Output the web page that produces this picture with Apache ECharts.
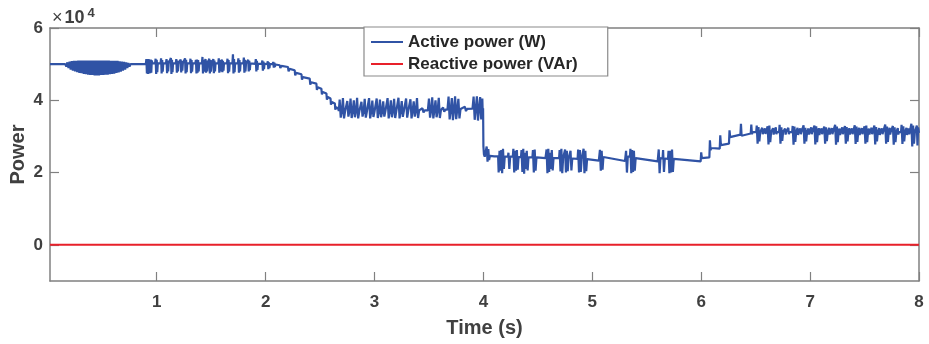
<!DOCTYPE html>
<html>
<head>
<meta charset="utf-8">
<script src="https://cdn.jsdelivr.net/npm/echarts@6/dist/echarts.min.js"></script>
<style>html,body{margin:0;padding:0;background:#fff}#chart{width:929px;height:344px}</style>
</head>
<body>
<div id="chart"></div>
<script>
// Values in units of 10^4 W / 10^4 VAr, time in s
const seriesNames = ['Active power (W)', 'Reactive power (VAr)'];
const xTicks = [1, 2, 3, 4, 5, 6, 7, 8];
const yTicks = [0, 2, 4, 6];

// 0 - 0.9 s : steady + dense oscillation band
const activeSeg1 = [[0.02,5.00],[0.16,5.00],[0.17,4.93],[0.18,5.05],[0.19,4.89],[0.20,5.07],[0.21,4.85],[0.22,5.08],[0.23,4.82],[0.24,5.09],[0.25,4.80],[0.26,5.09],[0.27,4.78],[0.28,5.10],[0.29,4.76],[0.30,5.10],[0.31,4.75],[0.32,5.10],[0.33,4.73],[0.34,5.10],[0.35,4.72],[0.36,5.10],[0.37,4.71],[0.38,5.10],[0.39,4.70],[0.40,5.10],[0.41,4.70],[0.42,5.10],[0.43,4.69],[0.44,5.10],[0.45,4.69],[0.46,5.10],[0.47,4.69],[0.48,5.10],[0.49,4.70],[0.50,5.10],[0.51,4.70],[0.52,5.10],[0.53,4.71],[0.54,5.10],[0.55,4.71],[0.56,5.10],[0.57,4.72],[0.58,5.09],[0.59,4.73],[0.60,5.09],[0.61,4.74],[0.62,5.09],[0.63,4.76],[0.64,5.09],[0.65,4.77],[0.66,5.08],[0.67,4.79],[0.68,5.07],[0.69,4.82],[0.70,5.06],[0.71,4.85],[0.72,5.05],[0.73,4.89],[0.74,5.03],[0.75,4.93],[0.76,5.00],[0.90,5.01]];

// 0.9 - 2.1 s : bursts around 5.0
const activeSeg2 = [[0.905,5.14],[0.91,4.74],[0.915,5.13],[0.92,4.73],[0.925,5.14],[0.93,4.74],[0.935,5.12],[0.94,4.75],[0.945,5.13],[0.95,4.76],[0.955,5.10],[0.96,5.02],
[0.985,5.02],[0.99,5.15],[0.995,4.73],[1.00,5.12],[1.005,4.78],[1.01,5.02],
[1.035,5.02],[1.04,5.16],[1.045,4.74],[1.05,5.11],[1.055,4.79],[1.06,5.02],
[1.085,5.02],[1.09,5.14],[1.095,4.75],[1.10,5.10],[1.105,4.80],[1.11,5.02],
[1.125,5.02],[1.13,5.17],[1.135,4.73],[1.14,5.12],[1.145,4.78],[1.15,5.02],
[1.175,5.02],[1.18,5.14],[1.185,4.76],[1.19,5.10],[1.195,4.80],[1.20,5.02],
[1.215,5.02],[1.22,5.13],[1.225,4.77],[1.23,5.09],[1.235,4.82],[1.24,5.02],
[1.255,5.02],[1.26,5.16],[1.265,4.74],[1.27,5.12],[1.275,4.78],[1.28,5.02],
[1.305,5.02],[1.31,5.15],[1.315,4.75],[1.32,5.11],[1.325,4.79],[1.33,5.02],
[1.355,5.02],[1.36,5.12],[1.365,4.74],[1.37,5.13],[1.375,4.76],[1.38,5.11],[1.385,4.80],[1.39,5.02],
[1.415,5.02],[1.42,5.20],[1.425,4.74],[1.43,5.12],[1.435,4.79],[1.44,5.02],
[1.448,5.14],[1.453,4.76],[1.458,5.10],[1.463,4.80],[1.468,5.02],
[1.478,5.02],[1.483,5.15],[1.488,4.74],[1.493,5.11],[1.498,4.79],[1.503,5.02],
[1.515,5.02],[1.52,5.14],[1.525,4.75],[1.53,5.10],[1.535,4.80],[1.54,5.02],
[1.565,5.02],[1.57,5.16],[1.575,4.76],[1.58,5.11],[1.585,4.80],[1.59,5.02],
[1.598,5.13],[1.603,4.78],[1.608,5.09],[1.613,4.82],[1.618,5.02],
[1.645,5.02],[1.65,5.15],[1.655,4.75],[1.66,5.11],[1.665,4.79],[1.67,5.02],
[1.695,5.02],[1.70,5.27],[1.705,4.74],[1.71,5.14],[1.715,4.78],[1.72,5.02],
[1.745,5.02],[1.75,5.16],[1.755,4.76],[1.76,5.11],[1.765,4.80],[1.77,5.02],
[1.795,5.02],[1.80,5.18],[1.805,4.76],[1.81,5.12],[1.815,4.80],[1.82,5.02],
[1.835,5.02],[1.84,5.12],[1.845,4.80],[1.85,5.09],[1.855,4.83],[1.86,5.02],
[1.905,5.01],[1.91,5.14],[1.915,4.80],[1.92,5.09],[1.925,4.84],[1.93,5.01],
[1.965,5.01],[1.97,5.10],[1.975,4.82],[1.98,5.07],[1.985,4.86],[1.99,5.01],
[2.015,5.00],[2.02,5.08],[2.025,4.86],[2.03,5.05],[2.035,4.89],[2.04,5.00],
[2.065,5.00],[2.07,5.06],[2.075,4.90],[2.08,5.04],[2.085,4.92],[2.09,4.99]];

// 2.1 - 2.67 s : descending staircase
const activeSeg3 = [[2.13,4.97],[2.135,4.89],[2.145,4.95],[2.155,4.93],
[2.205,4.92],[2.211,4.80],[2.22,4.87],[2.23,4.84],
[2.267,4.83],[2.272,4.69],[2.28,4.76],[2.29,4.73],
[2.329,4.72],[2.334,4.57],[2.342,4.64],[2.352,4.61],
[2.405,4.60],[2.41,4.43],[2.418,4.50],[2.428,4.47],
[2.466,4.46],[2.471,4.29],[2.479,4.36],[2.489,4.33],
[2.512,4.32],[2.517,4.16],[2.525,4.23],[2.535,4.20],
[2.558,4.19],[2.563,4.02],[2.571,4.09],[2.581,4.06],
[2.596,4.05],[2.60,3.88],[2.608,3.95],[2.618,3.92],
[2.636,3.91],[2.64,3.74],[2.648,3.81],[2.658,3.78],
[2.668,3.76],[2.672,3.70]];

// 2.67 - 4.0 s : spiky band around 3.72
const activeSeg4 = [[2.68,4.02],[2.69,3.52],[2.70,3.70],[2.71,4.06],[2.72,3.50],[2.73,3.70],[2.75,3.98],[2.76,3.55],[2.77,3.70],[2.78,4.05],[2.79,3.51],[2.80,3.70],[2.81,4.00],[2.82,3.53],[2.83,3.70],[2.84,4.07],[2.85,3.50],[2.86,3.69],[2.88,3.96],[2.89,3.55],[2.90,3.69],[2.91,4.04],[2.92,3.52],[2.93,3.69],[2.95,4.06],[2.96,3.50],[2.97,3.69],[2.98,3.99],[2.99,3.54],[3.00,3.69],[3.02,4.05],[3.03,3.51],[3.04,3.69],[3.05,4.02],[3.06,3.53],[3.07,3.69],[3.08,3.97],[3.09,3.55],[3.10,3.70],[3.12,4.06],[3.13,3.50],[3.14,3.70],[3.15,4.00],[3.16,3.53],[3.17,3.70],[3.18,4.04],[3.19,3.51],[3.20,3.70],[3.22,4.07],[3.23,3.50],[3.24,3.70],[3.25,3.98],[3.26,3.54],[3.27,3.71],[3.29,4.05],[3.30,3.52],[3.31,3.71],[3.33,4.03],[3.34,3.50],[3.35,3.71],[3.36,3.97],[3.37,3.55],[3.38,3.71],[3.39,4.06],[3.40,3.51],[3.41,3.72],[3.44,3.78],[3.45,3.66],[3.46,3.72],[3.49,3.72],
[3.50,4.05],[3.51,3.52],[3.52,3.72],[3.53,4.08],[3.54,3.50],[3.55,3.72],[3.56,4.00],[3.57,3.53],[3.58,3.72],[3.59,4.07],[3.60,3.51],[3.61,3.73],[3.63,3.80],[3.64,3.68],[3.65,3.74],[3.67,3.74],
[3.68,4.10],[3.69,3.47],[3.70,3.74],[3.71,4.06],[3.72,3.45],[3.73,3.75],[3.74,4.11],[3.75,3.48],[3.76,3.75],[3.77,4.04],[3.78,3.50],[3.79,3.76],[3.83,3.82],[3.84,3.70],[3.85,3.76],[3.90,3.77],
[3.91,4.10],[3.92,3.46],[3.93,3.76],[3.94,4.11],[3.95,3.44],[3.96,3.77],[3.97,4.09],[3.98,3.47],[3.99,4.05],[3.993,3.72],[3.997,3.78]];

// 4.0 - 6.0 s : low level ~2.4 with bursts
const activeSeg5 = [[4.00,2.72],[4.005,2.50],[4.012,2.44],[4.03,2.72],[4.038,2.30],[4.045,2.65],[4.052,2.35],[4.06,2.46],[4.10,2.45],
[4.135,2.45],[4.14,2.00],[4.148,2.60],[4.156,2.05],[4.164,2.62],[4.172,1.98],[4.18,2.66],[4.188,2.10],[4.196,2.44],
[4.225,2.44],[4.23,2.55],[4.238,2.10],[4.246,2.44],[4.27,2.44],[4.275,2.66],[4.283,2.00],[4.291,2.60],[4.299,2.05],[4.307,2.62],[4.315,2.08],[4.323,2.43],
[4.345,2.43],[4.35,2.62],[4.358,2.02],[4.366,2.66],[4.374,1.97],[4.382,2.55],[4.39,2.10],[4.398,2.60],[4.406,2.06],[4.414,2.42],
[4.45,2.42],[4.455,2.62],[4.463,2.00],[4.471,2.64],[4.479,2.05],[4.487,2.42],[4.57,2.40],
[4.575,2.40],[4.58,2.64],[4.588,1.98],[4.596,2.66],[4.604,2.02],[4.612,2.55],[4.62,2.10],[4.628,2.62],[4.636,2.06],[4.644,2.40],
[4.695,2.40],[4.70,2.62],[4.708,2.03],[4.716,2.66],[4.724,1.98],[4.732,2.40],[4.745,2.39],[4.75,2.64],[4.758,2.00],[4.766,2.60],[4.774,2.04],[4.782,2.39],[4.795,2.39],[4.80,2.60],[4.808,2.06],[4.816,2.39],
[4.865,2.38],[4.87,2.64],[4.878,2.00],[4.886,2.62],[4.894,2.02],[4.902,2.38],[4.915,2.38],[4.92,2.66],[4.928,1.98],[4.936,2.60],[4.944,2.04],[4.952,2.37],[5.06,2.33],
[5.065,2.33],[5.07,2.63],[5.078,2.05],[5.086,2.60],[5.094,2.08],[5.102,2.43],[5.30,2.32],
[5.305,2.32],[5.31,2.60],[5.318,2.00],[5.326,2.44],[5.345,2.44],[5.35,2.66],[5.358,1.98],[5.366,2.62],[5.374,2.02],[5.382,2.60],[5.39,2.05],[5.398,2.40],[5.60,2.31],
[5.605,2.31],[5.61,2.64],[5.618,1.98],[5.626,2.40],[5.645,2.39],[5.65,2.62],[5.658,2.02],[5.666,2.39],[5.695,2.38],[5.70,2.60],[5.708,1.98],[5.716,2.60],[5.724,2.00],[5.732,2.64],[5.74,2.02],[5.748,2.38],[5.995,2.31]];

// 6.0 - 8.0 s : rising steps then band around 3.12
const activeSeg6 = [[6.00,2.56],[6.006,2.40],[6.012,2.45],[6.075,2.42],[6.08,2.89],[6.086,2.62],[6.092,2.68],[6.17,2.66],[6.175,3.03],[6.181,2.76],[6.187,2.80],[6.255,2.80],[6.26,3.17],[6.266,2.98],[6.272,3.03],[6.36,3.05],[6.365,3.35],[6.371,3.02],[6.377,3.07],[6.455,3.08],[6.46,3.33],[6.466,3.06],[6.472,3.12],
[6.505,3.12],[6.51,3.30],[6.518,2.80],[6.526,3.26],[6.534,2.86],[6.542,3.12],[6.56,3.24],[6.565,3.06],[6.57,3.12],[6.585,3.22],[6.59,3.07],[6.595,3.12],
[6.605,3.12],[6.61,3.28],[6.618,2.78],[6.626,3.30],[6.634,2.84],[6.642,3.12],[6.66,3.23],[6.665,3.05],[6.67,3.12],[6.685,3.25],[6.69,3.06],[6.695,3.12],
[6.715,3.12],[6.72,3.32],[6.728,2.80],[6.736,3.25],[6.744,2.88],[6.752,3.12],[6.77,3.22],[6.775,3.05],[6.78,3.12],[6.80,3.24],[6.805,3.06],[6.81,3.12],
[6.835,3.12],[6.84,3.29],[6.848,2.77],[6.856,3.27],[6.864,2.85],[6.872,3.12],[6.885,3.24],[6.89,3.04],[6.895,3.12],[6.91,3.22],[6.915,3.06],[6.92,3.12],
[6.935,3.12],[6.94,3.31],[6.948,2.80],[6.956,3.24],[6.964,2.86],[6.972,3.12],[6.985,3.22],[6.99,3.05],[6.995,3.12],[7.01,3.25],[7.015,3.06],[7.02,3.12],
[7.035,3.12],[7.04,3.30],[7.048,2.78],[7.056,3.28],[7.064,2.84],[7.072,3.12],[7.08,3.23],[7.085,3.04],[7.09,3.12],[7.105,3.22],[7.11,3.06],[7.115,3.12],
[7.125,3.12],[7.13,3.27],[7.138,2.80],[7.146,3.25],[7.154,2.87],[7.162,3.12],[7.175,3.24],[7.18,3.05],[7.185,3.12],[7.20,3.23],[7.205,3.06],[7.21,3.12],
[7.225,3.12],[7.23,3.32],[7.238,2.77],[7.246,3.27],[7.254,2.84],[7.262,3.12],[7.27,3.22],[7.275,3.04],[7.28,3.12],[7.295,3.25],[7.30,3.06],[7.305,3.12],
[7.315,3.12],[7.32,3.29],[7.328,2.80],[7.336,3.26],[7.344,2.86],[7.352,3.12],[7.36,3.23],[7.365,3.05],[7.37,3.12],[7.385,3.22],[7.39,3.06],[7.395,3.12],
[7.405,3.12],[7.41,3.31],[7.418,2.79],[7.426,3.27],[7.434,2.85],[7.442,3.12],[7.45,3.24],[7.455,3.04],[7.46,3.12],[7.475,3.23],[7.48,3.06],[7.485,3.12],
[7.495,3.12],[7.50,3.28],[7.508,2.80],[7.516,3.30],[7.524,2.84],[7.532,3.12],[7.54,3.22],[7.545,3.05],[7.55,3.12],[7.565,3.24],[7.57,3.06],[7.575,3.12],
[7.585,3.12],[7.59,3.30],[7.598,2.78],[7.606,3.26],[7.614,2.86],[7.622,3.12],[7.635,3.23],[7.64,3.04],[7.645,3.12],[7.66,3.22],[7.665,3.06],[7.67,3.12],
[7.685,3.12],[7.69,3.33],[7.698,2.80],[7.706,3.27],[7.714,2.85],[7.722,3.12],[7.73,3.24],[7.735,3.05],[7.74,3.12],
[7.755,3.12],[7.76,3.29],[7.768,2.77],[7.776,3.25],[7.784,2.84],[7.792,3.12],[7.805,3.23],[7.81,3.05],[7.815,3.12],
[7.835,3.12],[7.84,3.32],[7.848,2.79],[7.856,3.28],[7.864,2.86],[7.872,3.12],[7.885,3.24],[7.89,3.04],[7.895,3.12],[7.905,3.22],[7.91,3.06],[7.915,3.12],
[7.925,3.12],[7.93,3.35],[7.938,2.72],[7.946,3.30],[7.954,2.80],[7.962,3.12],
[7.98,3.30],[7.986,2.75],[7.992,3.25],[8.00,3.10]];

const reactivePower = [[0.02,0.00],[1,0.00],[2,0.00],[3,0.00],[4,0.00],[5,0.00],[6,0.00],[7,0.00],[8,0.00]];

const activePower = activeSeg1.concat(activeSeg2, activeSeg3, activeSeg4, activeSeg5, activeSeg6);

const FONT = '"Liberation Sans", Arial, Helvetica, sans-serif';
const AX = '#808080';
const TXT = '#404040';

const chart = echarts.init(document.getElementById('chart'), null, {renderer: 'canvas'});

function xAx(pos, show) {
  return {
    type: 'value', position: pos, min: 0.02, max: 8,
    axisLine: {show: true, onZero: false, lineStyle: {color: AX, width: 1.5}},
    axisTick: {show: true, inside: true, length: 9, customValues: xTicks, lineStyle: {color: AX, width: 1.2}},
    axisLabel: {show: show, customValues: xTicks, margin: 13, color: TXT, fontSize: 17, fontWeight: 'bold', fontFamily: FONT},
    splitLine: {show: false},
    name: show ? 'Time (s)' : '', nameLocation: 'middle', nameGap: 37, nameMoveOverlap: false,
    nameTextStyle: {color: TXT, fontSize: 20, fontWeight: 'bold', fontFamily: FONT}
  };
}
function yAx(pos, show) {
  return {
    type: 'value', position: pos, min: -1, max: 6,
    axisLine: {show: true, onZero: false, lineStyle: {color: AX, width: 1.5}},
    axisTick: {show: true, inside: true, length: 9, customValues: yTicks, lineStyle: {color: AX, width: 1.2}},
    axisLabel: {show: show, customValues: yTicks, margin: 7, color: TXT, fontSize: 17, fontWeight: 'bold', fontFamily: FONT},
    splitLine: {show: false},
    name: show ? 'Power' : '', nameLocation: 'middle', nameGap: 22, nameMoveOverlap: false,
    nameTextStyle: {color: TXT, fontSize: 20, fontWeight: 'bold', fontFamily: FONT}
  };
}

chart.setOption({
  animation: false,
  backgroundColor: '#ffffff',
  grid: {left: 50, right: 10, top: 28, bottom: 63, containLabel: false, outerBoundsMode: 'none'},
  xAxis: [xAx('bottom', true), xAx('top', false)],
  yAxis: [yAx('left', true), yAx('right', false)],
  legend: {
    left: 364, top: 27, orient: 'vertical',
    data: seriesNames,
    icon: 'rect', itemWidth: 32, itemHeight: 2, itemGap: 4,
    padding: [6, 30, 3, 7],
    backgroundColor: '#ffffff',
    borderColor: '#8a8a8a', borderWidth: 1.2, borderRadius: 0,
    textStyle: {color: '#262626', fontSize: 17, fontWeight: 'bold', fontFamily: FONT, lineHeight: 18}
  },
  graphic: [{
    type: 'text', left: 52, top: 7,
    style: {
      text: '{a|×}{b|10}{c|4}',
      rich: {
        a: {fontSize: 18, fontFamily: FONT, fill: TXT, verticalAlign: 'bottom', padding: [0, 2, 0, 0]},
        b: {fontSize: 18, fontWeight: 'bold', fontFamily: FONT, fill: TXT, verticalAlign: 'bottom'},
        c: {fontSize: 13, fontWeight: 'bold', fontFamily: FONT, fill: TXT, verticalAlign: 'top', padding: [0, 0, 7, 3]}
      }
    }
  }],
  series: [
    {name: seriesNames[0], type: 'line', data: activePower, showSymbol: false, symbol: 'none',
     lineStyle: {color: '#3053A5', width: 2.2}, itemStyle: {color: '#3053A5'}, xAxisIndex: 0, yAxisIndex: 0, z: 3},
    {name: seriesNames[1], type: 'line', data: reactivePower, showSymbol: false, symbol: 'none',
     lineStyle: {color: '#E8202A', width: 2}, itemStyle: {color: '#E8202A'}, xAxisIndex: 0, yAxisIndex: 0, z: 2}
  ]
});
</script>
</body>
</html>
